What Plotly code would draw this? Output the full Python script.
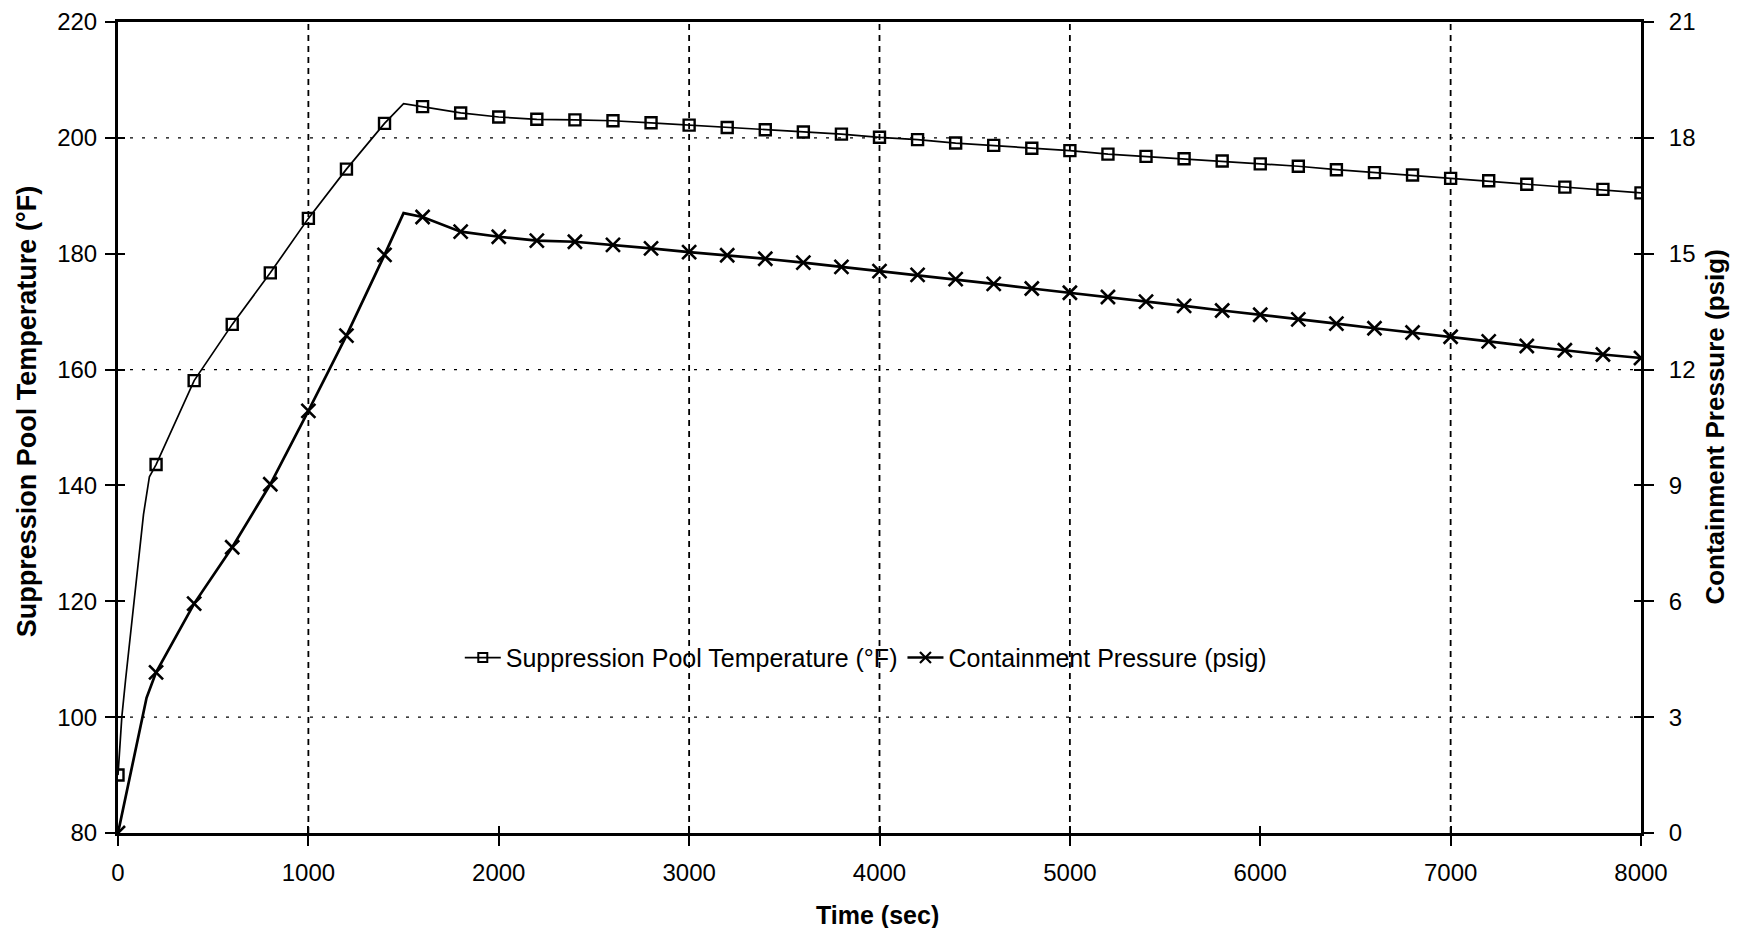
import plotly.graph_objects as go

# ---- data ----
time_marks = [0, 200, 400, 600, 800, 1000, 1200, 1400, 1600, 1800, 2000, 2200, 2400, 2600,
              2800, 3000, 3200, 3400, 3600, 3800, 4000, 4200, 4400, 4600, 4800, 5000, 5200,
              5400, 5600, 5800, 6000, 6200, 6400, 6600, 6800, 7000, 7200, 7400, 7600, 7800, 8000]
temp_marks = [90, 143.6, 158.1, 167.8, 176.7, 186.1, 194.6, 202.5, 205.4, 204.3, 203.6, 203.2,
              203.1, 202.95, 202.6, 202.2, 201.8, 201.4, 201.0, 200.65, 200.1, 199.7, 199.1,
              198.7, 198.2, 197.8, 197.2, 196.8, 196.4, 196.0, 195.5, 195.1, 194.5, 194.0,
              193.6, 193.0, 192.6, 192.0, 191.5, 191.1, 190.5]
press_marks = [0, 4.16, 5.94, 7.40, 9.03, 10.93, 12.88, 14.97, 15.95, 15.57, 15.44, 15.34,
               15.31, 15.23, 15.14, 15.04, 14.96, 14.87, 14.77, 14.66, 14.55, 14.45, 14.34,
               14.22, 14.10, 13.99, 13.88, 13.76, 13.65, 13.53, 13.42, 13.30, 13.19, 13.07,
               12.96, 12.85, 12.73, 12.61, 12.50, 12.39, 12.30]

# extra curve points between markers (line detail)
temp_extra_t = [20, 40, 85, 134, 165, 1500]
temp_extra_v = [100, 106.5, 120, 135, 141.5, 205.9]
press_extra_t = [150, 1500]
press_extra_v = [3.5, 16.05]

x_ticks = [0, 1000, 2000, 3000, 4000, 5000, 6000, 7000, 8000]
y_ticks = [80, 100, 120, 140, 160, 180, 200, 220]
y2_ticks = [0, 3, 6, 9, 12, 15, 18, 21]
x_grid = [1000, 3000, 4000, 5000, 7000]
y_grid = [100, 160, 200]

name_temp = "Suppression Pool Temperature (°F)"
name_press = "Containment Pressure (psig)"


def merge(t1, v1, t2, v2):
    pts = sorted(zip(list(t1) + list(t2), list(v1) + list(v2)))
    return [p[0] for p in pts], [p[1] for p in pts]


temp_line_t, temp_line_v = merge(time_marks, temp_marks, temp_extra_t, temp_extra_v)
press_line_t, press_line_v = merge(time_marks, press_marks, press_extra_t, press_extra_v)

FONT = "Liberation Sans, Arial, sans-serif"

fig = go.Figure()

# temperature
fig.add_trace(go.Scatter(x=temp_line_t, y=temp_line_v, mode="lines",
                         line=dict(color="black", width=1.7), showlegend=False, yaxis="y"))
fig.add_trace(go.Scatter(x=time_marks, y=temp_marks, mode="markers",
                         marker=dict(symbol="square-open", size=11, color="black",
                                     line=dict(width=2.4, color="black")),
                         showlegend=False, yaxis="y"))
# pressure
fig.add_trace(go.Scatter(x=press_line_t, y=press_line_v, mode="lines",
                         line=dict(color="black", width=2.7), showlegend=False, yaxis="y2"))
fig.add_trace(go.Scatter(x=time_marks, y=press_marks, mode="markers",
                         marker=dict(symbol="x-thin-open", size=14, color="black",
                                     line=dict(width=2.6, color="black")),
                         showlegend=False, yaxis="y2"))

# legend entries
fig.add_trace(go.Scatter(x=[None], y=[None], mode="lines+markers", name=name_temp,
                         line=dict(color="black", width=1.8),
                         marker=dict(symbol="square-open", size=9, color="black",
                                     line=dict(width=2, color="black"))))
fig.add_trace(go.Scatter(x=[None], y=[None], mode="lines+markers", name=name_press,
                         line=dict(color="black", width=2.4),
                         marker=dict(symbol="x-thin-open", size=11, color="black",
                                     line=dict(width=2.2, color="black"))))

# empty traces carrying the inner half of the crossing tick marks
fig.add_trace(go.Scatter(x=[None], y=[None], xaxis="x2", yaxis="y3", showlegend=False,
                         hoverinfo="skip"))
fig.add_trace(go.Scatter(x=[None], y=[None], xaxis="x", yaxis="y4", showlegend=False,
                         hoverinfo="skip"))

shapes = []
for gx in x_grid:
    shapes.append(dict(type="line", xref="x", yref="paper", x0=gx, x1=gx, y0=0, y1=1,
                       line=dict(color="black", width=1.8, dash="6px,5px"), layer="below"))
for gy in y_grid:
    shapes.append(dict(type="line", xref="paper", yref="y", x0=0, x1=1, y0=gy, y1=gy,
                       line=dict(color="black", width=1.3, dash="3px,9px"), layer="below"))

tick_common = dict(showgrid=False, zeroline=False, automargin=False,
                   tickwidth=2, tickcolor="black")

# page body has an 8px default margin: figure is 16px smaller than the window
fig.update_layout(
    width=1723, height=920,
    margin=dict(l=110, r=90, t=14, b=95),
    paper_bgcolor="white", plot_bgcolor="white",
    font=dict(family=FONT, size=24, color="black"),
    shapes=shapes,
    xaxis=dict(range=[0, 8000], tickvals=x_ticks, showline=True, linecolor="black",
               linewidth=3, mirror=True, ticks="outside", ticklen=10,
               ticklabelstandoff=6, tickfont=dict(size=24), **tick_common),
    xaxis2=dict(range=[0, 8000], tickvals=x_ticks, overlaying="x", anchor="y3",
                side="bottom", showline=False, ticks="inside", ticklen=7,
                showticklabels=False, **tick_common),
    yaxis=dict(range=[80, 220], tickvals=y_ticks, showline=True, linecolor="black",
               linewidth=3, ticks="outside", ticklen=10,
               ticklabelstandoff=3, tickfont=dict(size=24), **tick_common),
    yaxis2=dict(range=[0, 21], tickvals=y2_ticks, overlaying="y", side="right",
                showline=True, linecolor="black", linewidth=3,
                ticks="outside", ticklen=10, ticklabelstandoff=10,
                tickfont=dict(size=24), **tick_common),
    yaxis3=dict(range=[80, 220], tickvals=y_ticks, overlaying="y", side="left",
                anchor="x2", showline=False, ticks="inside", ticklen=7,
                showticklabels=False, **tick_common),
    yaxis4=dict(range=[80, 220], tickvals=y_ticks, overlaying="y", side="right",
                anchor="x", showline=False, ticks="inside", ticklen=7,
                showticklabels=False, **tick_common),
    legend=dict(orientation="h", x=0.491, y=0.216, xanchor="center", yanchor="middle",
                bgcolor="rgba(0,0,0,0)", font=dict(size=25),
                itemwidth=36, tracegroupgap=0),
    annotations=[
        dict(text="<b>Time (sec)</b>", xref="paper", yref="paper", x=0.499, y=-0.1015,
             xanchor="center", yanchor="middle", showarrow=False, font=dict(size=25)),
        dict(text="<b>" + name_temp + "</b>", xref="paper", yref="paper",
             x=-0.0598, y=0.52, xanchor="center", yanchor="middle", textangle=-90,
             showarrow=False, font=dict(size=27)),
        dict(text="<b>" + name_press + "</b>", xref="paper", yref="paper",
             x=1.048, y=0.5, xanchor="center", yanchor="middle", textangle=-90,
             showarrow=False, font=dict(size=26)),
    ],
)

fig.write_html("out.html")
